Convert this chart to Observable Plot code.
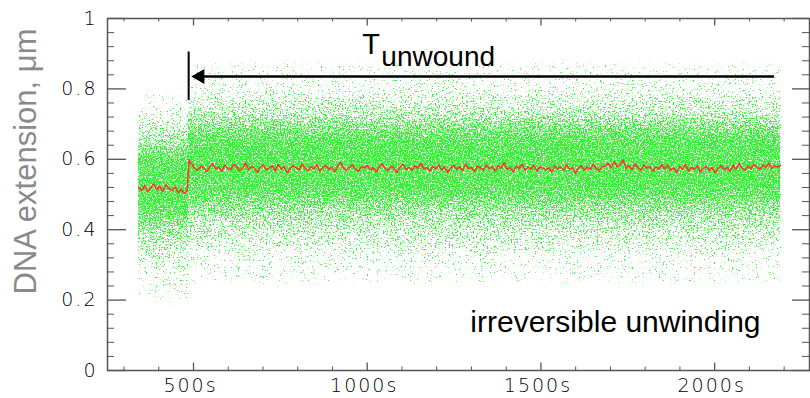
<!DOCTYPE html>
<html>
<head>
<meta charset="utf-8">
<script src="https://cdn.jsdelivr.net/npm/d3@7"></script>
<script src="https://cdn.jsdelivr.net/npm/@observablehq/plot@0.6"></script>
<style>
  html, body { margin: 0; padding: 0; background: #fff; }
  #chart svg { display: block; }
</style>
</head>
<body>
<div id="chart"></div>
<script>
// ---------- data ----------
const xMajor = [500, 1000, 1500, 2000];
const xLabels = ["500s", "1000s", "1500s", "2000s"];
const xMinor = [300, 400, 600, 700, 800, 900, 1100, 1200, 1300, 1400, 1600, 1700, 1800, 1900, 2100, 2200];
const yMajor = [0, 0.2, 0.4, 0.6, 0.8, 1];
const yLabels = ["0", "0.2", "0.4", "0.6", "0.8", "1"];
const yMinor = [0.04, 0.08, 0.12, 0.16, 0.24, 0.28, 0.32, 0.36, 0.44, 0.48, 0.52, 0.56,
                0.64, 0.68, 0.72, 0.76, 0.84, 0.88, 0.92, 0.96];

// raw (green) cloud: two segments, before / after unwinding, with its estimated spread
const segStart = [342, 486];
const segEnd   = [486, 2190];
const rareLo  = [0.22, 0.27],  rareHi  = [0.76, 0.85];
const outerLo = [0.30, 0.35],  outerHi = [0.71, 0.78];
const midLo   = [0.37, 0.42],  midHi   = [0.665, 0.725];
const innerLo = [0.415, 0.47], innerHi = [0.63, 0.695];
const coreLo  = [0.45, 0.50],  coreHi  = [0.60, 0.66];
// relative point density of each spread level
const levelDensity = [0.07, 0.165, 0.19, 0.2, 0.25];

// smoothed (red) trace
const preStart = 342, preEnd = 482;
const preValues = [0.521, 0.512, 0.526, 0.508, 0.519, 0.530, 0.514, 0.523, 0.509, 0.527, 0.516, 0.511, 0.522, 0.505, 0.515, 0.503, 0.512];
const postStart = 487, postEnd = 2190;
const postValues = [
  0.598, 0.586, 0.574, 0.569, 0.581, 0.576, 0.565, 0.579, 0.588, 0.572, 0.578, 0.566, 0.583, 0.575, 0.570, 0.586, 0.579, 0.568, 0.574, 0.590,
  0.571, 0.580, 0.575, 0.563, 0.577, 0.584, 0.569, 0.576, 0.581, 0.567, 0.585, 0.573, 0.579, 0.561, 0.574, 0.582, 0.576, 0.570, 0.587, 0.574,
  0.568, 0.579, 0.573, 0.585, 0.566, 0.577, 0.583, 0.571, 0.578, 0.565, 0.580, 0.592, 0.574, 0.569, 0.578, 0.584, 0.572, 0.566, 0.580, 0.575,
  0.583, 0.570, 0.576, 0.564, 0.579, 0.587, 0.573, 0.568, 0.581, 0.575, 0.562, 0.578, 0.586, 0.571, 0.577, 0.569, 0.582, 0.574, 0.589, 0.572,
  0.577, 0.566, 0.580, 0.573, 0.584, 0.570, 0.578, 0.563, 0.575, 0.583, 0.571, 0.579, 0.568, 0.586, 0.574, 0.577, 0.565, 0.581, 0.576, 0.570,
  0.584, 0.573, 0.579, 0.567, 0.582, 0.575, 0.590, 0.571, 0.577, 0.564, 0.580, 0.574, 0.586, 0.569, 0.578, 0.572, 0.583, 0.566, 0.579, 0.575,
  0.570, 0.576, 0.564, 0.581, 0.573, 0.579, 0.568, 0.584, 0.572, 0.577, 0.561, 0.575, 0.582, 0.569, 0.578, 0.571, 0.586, 0.574, 0.567, 0.580,
  0.581, 0.588, 0.576, 0.593, 0.579, 0.585, 0.598, 0.574, 0.582, 0.571, 0.587, 0.577, 0.569, 0.583, 0.575, 0.580, 0.566, 0.578, 0.573, 0.585,
  0.573, 0.583, 0.569, 0.576, 0.562, 0.579, 0.572, 0.585, 0.566, 0.577, 0.571, 0.581, 0.564, 0.575, 0.580, 0.568, 0.577, 0.560, 0.574, 0.582,
  0.570, 0.578, 0.565, 0.583, 0.572, 0.588, 0.575, 0.569, 0.581, 0.573, 0.586, 0.578, 0.571, 0.584, 0.576, 0.589, 0.574, 0.581, 0.578, 0.583
];

// annotation anchors (data units)
const unwoundStart = 486, arrowFrom = 494, arrowTo = 2172, arrowY = 0.835;

// ---------- tables ----------
const levels = [[rareLo, rareHi], [outerLo, outerHi], [midLo, midHi], [innerLo, innerHi], [coreLo, coreHi]];
const bands = levels.flatMap(([lo, hi], k) => segStart.map((s, i) => ({
  x1: s, x2: segEnd[i], y1: lo[i], y2: hi[i], density: levelDensity[k]
})));
const trace = [
  ...preValues.map((v, i) => ({t: preStart + i * (preEnd - preStart) / (preValues.length - 1), v})),
  ...postValues.map((v, i) => ({t: postStart + i * (postEnd - postStart) / (postValues.length - 1), v}))
];

// ---------- layout & style ----------
const W = 810, H = 398, mL = 107, mR = 1, mT = 18, mB = 28;
const fw = W - mL - mR, fh = H - mT - mB;
const axisColor = "#555";
const sans = "Liberation Sans";
const tickFont = "DejaVu Sans";

const chart = Plot.plot({
  width: W, height: H,
  marginLeft: mL, marginRight: mR, marginTop: mT, marginBottom: mB,
  x: {domain: [252.4, 2273], axis: null},
  y: {domain: [0, 1], axis: null},
  style: {background: "#fff", overflow: "visible"},
  marks: [
    // point cloud rendered as a speckle texture whose density follows the bands
    Plot.rect(bands, {x1: "x1", x2: "x2", y1: "y1", y2: "y2", fill: "#000", fillOpacity: "density"}),
    Plot.line(trace, {x: "t", y: "v", stroke: "#ff3535", strokeWidth: 1.6}),
    // annotation: T_unwound
    Plot.ruleX([unwoundStart], {y1: 0.767, y2: 0.905, stroke: "#000", strokeWidth: 2}),
    Plot.ruleY([arrowY], {x1: arrowFrom + 30, x2: arrowTo, stroke: "#000", strokeWidth: 2.5}),
    Plot.dot([arrowFrom], {x: d => d, y: arrowY, symbol: "triangle", r: 5.6, rotate: -90, dx: 8.6, fill: "#000", stroke: "none"}),
    Plot.text(["T"], {x: 986, y: 0.9, text: d => d, textAnchor: "start", lineAnchor: "bottom",
      fontFamily: sans, fontSize: 29, fill: "#000"}),
    Plot.text(["unwound"], {x: 986, y: 0.9, dx: 19, dy: 12, text: d => d, textAnchor: "start", lineAnchor: "bottom",
      fontFamily: sans, fontSize: 28, fill: "#000"}),
    Plot.text(["irreversible unwinding"], {x: 2132, y: 0.108, text: d => d, textAnchor: "end", lineAnchor: "bottom",
      fontFamily: sans, fontSize: 30, fill: "#000"}),
    // frame & inward ticks on all four sides
    Plot.frame({stroke: axisColor, strokeWidth: 1.5}),
    Plot.tickX(xMinor, {x: d => d, insetTop: fh - 3.5, stroke: axisColor, strokeWidth: 1}),
    Plot.tickX(xMinor, {x: d => d, insetBottom: fh - 3.5, stroke: axisColor, strokeWidth: 1}),
    Plot.tickX(xMajor, {x: d => d, insetTop: fh - 7.5, stroke: axisColor, strokeWidth: 1.3}),
    Plot.tickX(xMajor, {x: d => d, insetBottom: fh - 7.5, stroke: axisColor, strokeWidth: 1.3}),
    Plot.tickY(yMinor, {y: d => d, insetRight: fw - 7, stroke: axisColor, strokeWidth: 1}),
    Plot.tickY(yMinor, {y: d => d, insetLeft: fw - 7, stroke: axisColor, strokeWidth: 1}),
    Plot.tickY(yMajor, {y: d => d, insetRight: fw - 19, stroke: axisColor, strokeWidth: 1.3}),
    Plot.tickY(yMajor, {y: d => d, insetLeft: fw - 17, stroke: axisColor, strokeWidth: 1.3}),
    // tick labels
    Plot.text(xMajor, {x: d => d, y: 0, dy: 15, dx: -3, text: (d, i) => xLabels[i], textAnchor: "middle", lineAnchor: "middle",
      fontFamily: tickFont, fontWeight: 200, fontSize: 19, fill: "#000"}),
    Plot.text(yMajor, {y: d => d, frameAnchor: "left", dx: -10, text: (d, i) => yLabels[i], textAnchor: "end", lineAnchor: "middle",
      fontFamily: tickFont, fontWeight: 200, fontSize: 19, fill: "#000"}),
    // y title
    Plot.text(["DNA extension, μm"], {frameAnchor: "left", dx: -72, dy: -33, rotate: -90, text: d => d,
      textAnchor: "middle", lineAnchor: "bottom", fontFamily: sans, fontSize: 31, fill: "#8a8a8a"})
  ]
});

// speckle filter: turns the (vertically softened) band opacity into a scatter of 1px green points
const svg = d3.select(chart);
const defs = svg.insert("defs", ":first-child");
const f = defs.append("filter").attr("id", "speckle")
  .attr("filterUnits", "userSpaceOnUse").attr("x", 0).attr("y", 0).attr("width", W).attr("height", H)
  .attr("color-interpolation-filters", "sRGB");
f.append("feGaussianBlur").attr("in", "SourceAlpha").attr("stdDeviation", "0.01 7").attr("result", "soft");
function layer(seed, freq, gain, color, name) {
  f.append("feTurbulence").attr("type", "fractalNoise").attr("baseFrequency", freq).attr("numOctaves", 2)
    .attr("seed", seed).attr("result", name + "n");
  f.append("feColorMatrix").attr("in", name + "n").attr("type", "matrix")
    .attr("values", "0 0 0 0 0  0 0 0 0 0  0 0 0 0 0  2 0 0 0 -0.5").attr("result", name + "a");
  f.append("feComposite").attr("in", "soft").attr("in2", name + "a").attr("operator", "arithmetic")
    .attr("k1", 0).attr("k2", gain).attr("k3", -1).attr("k4", 0).attr("result", name + "d");
  f.append("feComponentTransfer").attr("in", name + "d").attr("result", name + "b")
    .append("feFuncA").attr("type", "linear").attr("slope", 60).attr("intercept", 0);
  f.append("feFlood").attr("flood-color", color).attr("result", name + "c");
  f.append("feComposite").attr("in", name + "c").attr("in2", name + "b").attr("operator", "in").attr("result", name);
}
layer(11, 0.83, 1.1, "#a4f8a4", "L");
layer(3, 0.71, 1.0, "#3aee3a", "G");
const m = f.append("feMerge");
m.append("feMergeNode").attr("in", "L");
m.append("feMergeNode").attr("in", "G");
svg.selectAll("g[aria-label=rect]").attr("filter", "url(#speckle)");
svg.selectAll("text").filter(function() {
  return xLabels.includes(this.textContent) || yLabels.includes(this.textContent);
}).attr("letter-spacing", 2);

document.getElementById("chart").appendChild(chart);
</script>
</body>
</html>
